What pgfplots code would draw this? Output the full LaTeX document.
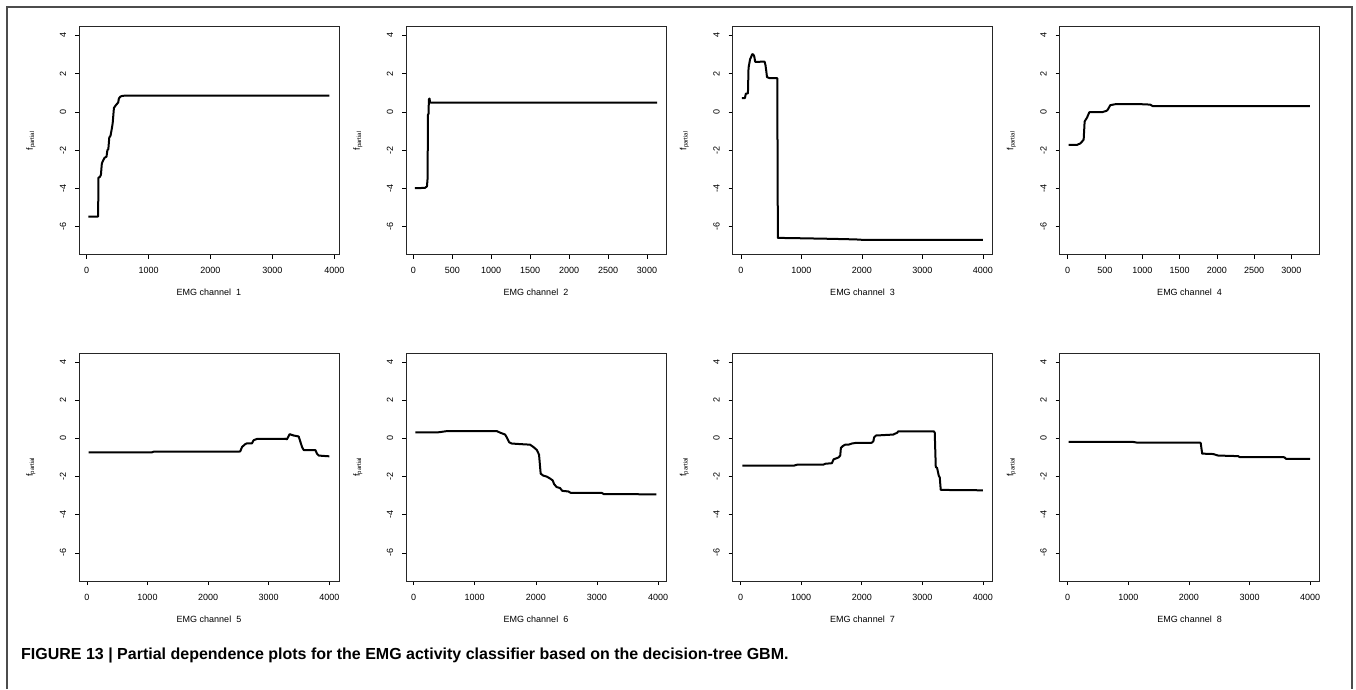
\documentclass[border=0pt]{standalone}
\usepackage{pgfplots}
\pgfplotsset{compat=1.18}
\usepackage{fontspec}
\setmainfont{Liberation Sans}
\pgfplotsset{
  rp/.style={
    width=260pt, height=228pt, scale only axis, anchor=north west,
    ymin=-7.47, ymax=4.47, ytick={-6,-4,-2,0,2,4},
    tick align=outside, xtick pos=left, ytick pos=left,
    major tick length=4pt,
    tick style={black, line width=0.6pt},
    axis line style={line width=0.8pt, black!85},
    tick label style={font=\fontsize{9}{10}\selectfont},
    label style={font=\fontsize{9}{10}\selectfont},
    /pgf/number format/assume math mode=true,
    /pgf/number format/1000 sep={},
    scaled ticks=false,
    xticklabel style={anchor=center, inner sep=0pt},
    yticklabel style={rotate=90, anchor=center, inner sep=0pt},
    xticklabel shift=12pt, yticklabel shift=12pt,
    ylabel={f\textsubscript{partial}},
    xlabel style={at={(axis description cs:0.5,-0.167)}, anchor=center},
    ylabel style={at={(axis description cs:-0.185,0.5)}, anchor=center},
  },
  pl/.style={black, line width=2pt, line join=round, no marks},
}
\begin{document}
\begin{tikzpicture}
\path[use as bounding box] (0pt,0pt) rectangle (1356pt,-689pt);
\draw[black!70, line width=1.2pt] (7pt,-689pt) -- (7pt,-7pt) -- (1352pt,-7pt) -- (1352pt,-689pt);

% Panel 1
\begin{axis}[rp, at={(79pt,-26.5pt)}, xmin=-124, xmax=4076, xtick={0,1000,2000,3000,4000}, xlabel={EMG channel\ \ 1}]
\addplot[pl] coordinates {(27,-5.48) (185,-5.48) (190,-3.45) (215,-3.4) (230,-3.3) (245,-2.7) (265,-2.55) (290,-2.4) (320,-2.35) (335,-2.0) (350,-1.95) (365,-1.35) (385,-1.25) (405,-0.9) (420,-0.6) (440,0.2) (460,0.3) (485,0.4) (510,0.5) (520,0.7) (545,0.8) (580,0.84) (640,0.85) (3920,0.85)};
\end{axis}
% Panel 2
\begin{axis}[rp, at={(406pt,-26.5pt)}, xmin=-94, xmax=3244, xtick={0,500,1000,1500,2000,2500,3000}, xlabel={EMG channel\ \ 2}]
\addplot[pl] coordinates {(21,-4.0) (150,-3.98) (175,-3.9) (183,-3.5) (188,-0.15) (195,-0.1) (200,0.65) (208,0.7) (215,0.5) (230,0.48) (3129,0.48)};
\end{axis}
% Panel 3
\begin{axis}[rp, at={(732.5pt,-26.5pt)}, xmin=-140, xmax=4159, xtick={0,1000,2000,3000,4000}, xlabel={EMG channel\ \ 3}]
\addplot[pl] coordinates {(16,0.72) (65,0.72) (80,0.95) (115,0.97) (125,2.3) (150,2.75) (165,2.85) (185,3.02) (205,3.0) (220,2.9) (235,2.62) (260,2.62) (390,2.63) (405,2.45) (420,2.1) (430,1.82) (470,1.77) (600,1.77) (610,-6.6) (1000,-6.62) (1500,-6.65) (1900,-6.68) (2000,-6.7) (4000,-6.7)};
\end{axis}
% Panel 4
\begin{axis}[rp, at={(1059.5pt,-26.5pt)}, xmin=-110, xmax=3377, xtick={0,500,1000,1500,2000,2500,3000}, xlabel={EMG channel\ \ 4}]
\addplot[pl] coordinates {(13,-1.73) (125,-1.73) (170,-1.65) (205,-1.5) (214,-1.45) (227,-0.5) (259,-0.3) (290,-0.02) (459,-0.02) (517,0.05) (535,0.1) (571,0.35) (638,0.4) (994,0.4) (1105,0.38) (1141,0.3) (3246,0.3)};
\end{axis}
% Panel 5
\begin{axis}[rp, at={(79pt,-353pt)}, xmin=-130, xmax=4159, xtick={0,1000,2000,3000,4000}, xlabel={EMG channel\ \ 5}]
\addplot[pl] coordinates {(27,-0.73) (1073,-0.73) (1100,-0.7) (2500,-0.7) (2530,-0.68) (2560,-0.45) (2613,-0.3) (2640,-0.26) (2723,-0.26) (2750,-0.1) (2805,-0.03) (3274,-0.02) (3300,-0.05) (3345,0.22) (3410,0.15) (3494,0.1) (3549,-0.45) (3576,-0.61) (3769,-0.61) (3796,-0.8) (3824,-0.9) (3906,-0.92) (4000,-0.94)};
\end{axis}
% Panel 6
\begin{axis}[rp, at={(406pt,-353pt)}, xmin=-125, xmax=4130, xtick={0,1000,2000,3000,4000}, xlabel={EMG channel\ \ 6}]
\addplot[pl] coordinates {(27,0.31) (381,0.31) (435,0.33) (544,0.38) (1361,0.38) (1415,0.3) (1497,0.2) (1524,0.05) (1562,-0.2) (1605,-0.27) (1741,-0.3) (1905,-0.33) (1959,-0.45) (2014,-0.6) (2052,-0.85) (2079,-1.85) (2122,-1.95) (2177,-2.0) (2231,-2.1) (2275,-2.2) (2300,-2.4) (2340,-2.55) (2395,-2.6) (2433,-2.75) (2531,-2.78) (2569,-2.85) (3075,-2.85) (3113,-2.92) (3973,-2.93)};
\end{axis}
% Panel 7
\begin{axis}[rp, at={(732.5pt,-353pt)}, xmin=-135, xmax=4159, xtick={0,1000,2000,3000,4000}, xlabel={EMG channel\ \ 7}]
\addplot[pl] coordinates {(27,-1.43) (877,-1.43) (932,-1.38) (1370,-1.37) (1397,-1.33) (1507,-1.3) (1534,-1.1) (1616,-1.0) (1644,-0.9) (1655,-0.5) (1688,-0.4) (1726,-0.33) (1781,-0.33) (1836,-0.27) (1918,-0.23) (2164,-0.23) (2192,-0.15) (2203,0.05) (2236,0.15) (2356,0.17) (2521,0.2) (2586,0.3) (2603,0.37) (3189,0.37) (3205,0.3) (3222,-1.5) (3244,-1.55) (3271,-1.95) (3288,-2.05) (3304,-2.7) (4000,-2.72)};
\end{axis}
% Panel 8
\begin{axis}[rp, at={(1059.5pt,-353pt)}, xmin=-135, xmax=4155, xtick={0,1000,2000,3000,4000}, xlabel={EMG channel\ \ 8}]
\addplot[pl] coordinates {(16,-0.19) (1085,-0.19) (1140,-0.22) (2181,-0.22) (2195,-0.25) (2219,-0.8) (2400,-0.82) (2482,-0.9) (2811,-0.93) (2838,-0.98) (3551,-0.98) (3578,-1.0) (3605,-1.08) (4000,-1.08)};
\end{axis}

\node[anchor=base west, font=\bfseries\fontsize{16}{18}\selectfont, inner sep=0pt] at (21pt,-659pt) {FIGURE 13 | Partial dependence plots for the EMG activity classifier based on the decision-tree GBM.};
\end{tikzpicture}
\end{document}
